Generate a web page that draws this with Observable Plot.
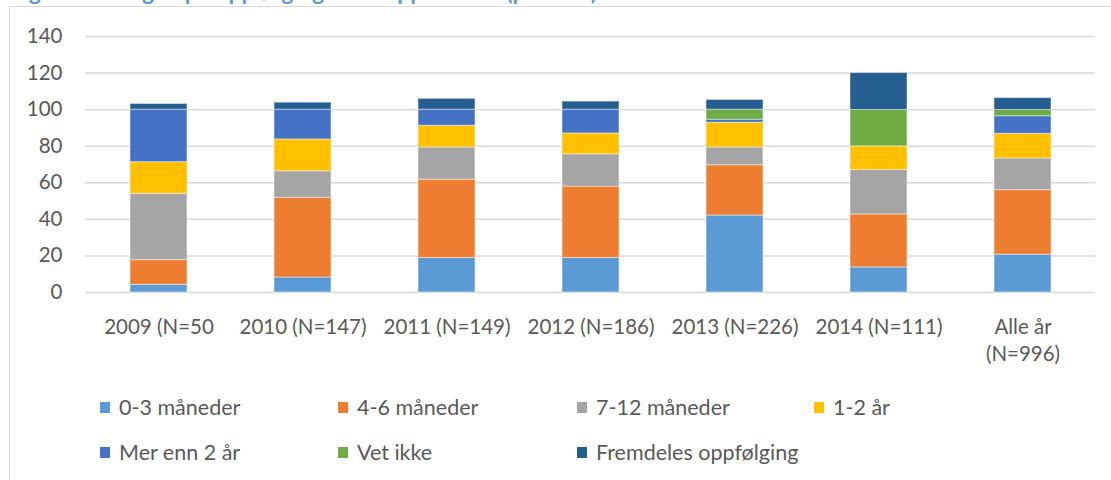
<!DOCTYPE html>
<html>
<head>
<meta charset="utf-8">
<script src="https://cdn.jsdelivr.net/npm/d3@7"></script>
<script src="https://cdn.jsdelivr.net/npm/@observablehq/plot@0.6"></script>
<style>
  html, body { margin: 0; padding: 0; background: #fff; }
  #wrap { position: relative; width: 1111px; height: 480px; overflow: hidden; font-family: Lato, "Open Sans", sans-serif; color: #595959; }
  #title { position: absolute; left: 10px; top: -20px; font: bold 23px/23px Lato, "Open Sans", sans-serif; color: #5B9BD5; white-space: nowrap; }
  #frame { position: absolute; left: 9px; top: 6px; width: 1120px; height: 500px; border: 1.5px solid #d9d9d9; box-sizing: border-box; background: #fff; }
  #chart { position: absolute; left: 0; top: 0; }
  #legend { position: absolute; left: 0; top: 0; width: 1111px; height: 480px; pointer-events: none; }
  .li { position: absolute; display: flex; align-items: center; font-size: 21.5px; color: #595959; white-space: nowrap; }
  .sw { width: 10px; height: 11px; margin-right: 9px; }
</style>
</head>
<body>
<div id="wrap">
  <div id="title">Figur 4.3 Lengde på oppfølging etter oppstartsår (prosent)</div>
  <div id="frame"></div>
  <div id="chart"></div>
  <div id="legend"></div>
</div>
<script>
const categories = ["2009 (N=50", "2010 (N=147)", "2011 (N=149)", "2012 (N=186)", "2013 (N=226)", "2014 (N=111)", "Alle år\n(N=996)"];
const seriesNames = ["0-3 måneder", "4-6 måneder", "7-12 måneder", "1-2 år", "Mer enn 2 år", "Vet ikke", "Fremdeles oppfølging"];
const seriesColors = ["#5B9BD5", "#ED7D31", "#A5A5A5", "#FFC000", "#4472C4", "#70AD47", "#255E91"];
const v0_3m   = [4.2, 8.2, 18.9, 18.9, 42.1, 13.7, 20.7];
const v4_6m   = [13.5, 43.6, 42.8, 39.0, 27.5, 29.0, 35.3];
const v7_12m  = [36.3, 14.5, 17.6, 17.7, 9.7, 24.3, 17.3];
const v1_2y   = [17.3, 17.4, 11.9, 11.4, 13.6, 12.9, 13.5];
const vOver2  = [28.7, 16.3, 8.8, 13.0, 1.6, 0, 9.6];
const vVetIkke = [0, 0, 0, 0, 5.5, 19.9, 3.4];
const vFremdeles = [3.1, 3.8, 5.9, 4.4, 5.3, 20.2, 6.5];
const yTicks = [0, 20, 40, 60, 80, 100, 120, 140];

const seriesValues = [v0_3m, v4_6m, v7_12m, v1_2y, vOver2, vVetIkke, vFremdeles];
const rows = [];
seriesNames.forEach((s, i) => {
  categories.forEach((c, j) => rows.push({cat: c, series: s, value: seriesValues[i][j]}));
});

const chart = Plot.plot({
  width: 1111,
  height: 380,
  marginLeft: 85,
  marginRight: 16,
  marginTop: 36,
  marginBottom: 88,
  style: {fontFamily: "Lato, 'Open Sans', sans-serif", fontSize: "20.5px", color: "#595959", background: "transparent"},
  x: {domain: categories, paddingInner: 0.605, paddingOuter: 0.3025, label: null},
  y: {domain: [0, 140], ticks: yTicks, label: null},
  color: {domain: seriesNames, range: seriesColors},
  marks: [
    Plot.ruleY(yTicks, {stroke: "#d9d9d9", strokeWidth: 1.5}),
    Plot.barY(rows, {x: "cat", y: "value", fill: "series", stroke: "#ffffff", strokeOpacity: 0.45, strokeWidth: 1, order: null}),
    Plot.axisY({ticks: yTicks, tickSize: 0, tickPadding: 23, fill: "#595959", fontSize: 20.5, label: null}),
    Plot.axisX({tickSize: 0, tickPadding: 22, fill: "#595959", fontSize: 20.5, lineHeight: 1.32, label: null})
  ]
});
document.getElementById("chart").appendChild(chart);

const legend = document.getElementById("legend");
const colX = [100, 338, 577, 814];
const rowY = [407, 452];
seriesNames.forEach((s, i) => {
  const d = document.createElement("div");
  d.className = "li";
  d.style.left = colX[i % 4] + "px";
  d.style.top = (rowY[Math.floor(i / 4)] - 13) + "px";
  d.style.height = "26px";
  const sw = document.createElement("span");
  sw.className = "sw";
  sw.style.background = seriesColors[i];
  d.appendChild(sw);
  d.appendChild(document.createTextNode(s));
  legend.appendChild(d);
});
</script>
</body>
</html>
